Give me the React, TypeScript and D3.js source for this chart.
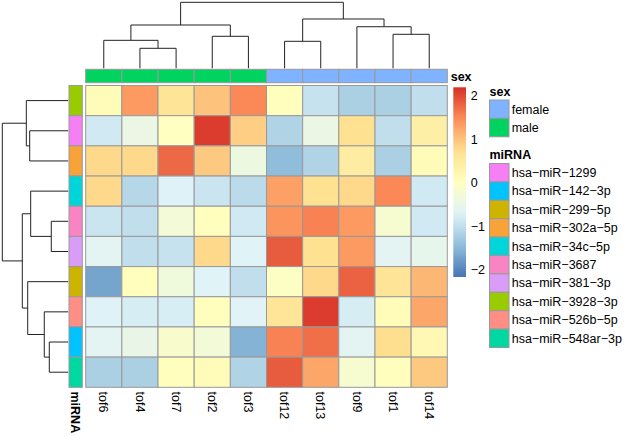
import React, { useEffect } from "react";
import * as d3 from "d3";

// ---- data ----
const cols = ["tof6", "tof4", "tof7", "tof2", "tof3", "tof12", "tof13", "tof9", "tof1", "tof14"];
const rows = [
  "hsa-miR-3928-3p", "hsa-miR-1299", "hsa-miR-302a-5p", "hsa-miR-34c-5p", "hsa-miR-3687",
  "hsa-miR-381-3p", "hsa-miR-299-5p", "hsa-miR-526b-5p", "hsa-miR-142-3p", "hsa-miR-548ar-3p",
];
const colSex = ["male", "male", "male", "male", "male", "female", "female", "female", "female", "female"];

const v3928 = [0.1, 1.35, 0.65, 1.0, 1.5, 0.05, -0.95, -1.2, -1.2, -1.0];
const v1299 = [-0.85, -0.45, 0.0, 2.1, 0.9, -1.15, -0.45, 0.72, -1.0, 0.4];
const v302a = [0.8, 0.8, 1.75, 0.95, -0.4, -1.45, -1.15, 0.45, -1.2, 0.1];
const v34c = [0.8, -1.1, -0.72, -0.9, -1.05, 1.3, 0.72, 0.8, 1.5, -0.85];
const v3687 = [-0.9, -1.0, -0.3, 0.05, -0.85, 1.4, 1.55, 1.35, -0.2, -0.85];
const v381 = [-0.65, -1.0, -0.95, 0.8, -0.7, 1.85, 0.72, 1.35, -0.65, -0.55];
const v299 = [-1.7, 0.05, -0.35, -0.7, -1.0, -0.05, 0.8, 1.8, 0.65, 1.1];
const v526b = [-0.72, -0.8, -0.78, 0.05, -0.68, 0.62, 2.1, -0.8, 0.1, 1.25];
const v142 = [-0.65, -0.5, -0.15, -0.3, -1.55, 1.55, 1.7, -0.65, 0.75, 0.2];
const v548ar = [-1.2, -1.2, 0.05, 0.1, -1.15, 1.85, 1.25, -0.2, 0.05, 0.95];
const values = [v3928, v1299, v302a, v34c, v3687, v381, v299, v526b, v142, v548ar];

const legendTicks = [2, 1, 0, -1, -2];
const valueDomain = [-2.16, 2.19];
const palette = ["#4575B4", "#91BFDB", "#E0F3F8", "#FFFFBF", "#FEE090", "#FC8D59", "#D73027"];

const sexLevels = ["female", "male"];
const sexColors = ["#7FB2FF", "#00D35F"];
const mirnaLevels = [
  "hsa-miR-1299", "hsa-miR-142-3p", "hsa-miR-299-5p", "hsa-miR-302a-5p", "hsa-miR-34c-5p",
  "hsa-miR-3687", "hsa-miR-381-3p", "hsa-miR-3928-3p", "hsa-miR-526b-5p", "hsa-miR-548ar-3p",
];
const mirnaColors = [
  "#F77FF5", "#00C3FF", "#CDB400", "#F8A23A", "#00D6DA",
  "#F884C4", "#DA9DF7", "#98CB00", "#FF8E84", "#00D8A2",
];

// dendrograms (heights relative to root)
const colTree = {
  h: 1.0,
  c: [
    { h: 0.656, c: [{ h: 0.424, c: ["tof6", { h: 0.303, c: ["tof4", "tof7"] }] }, { h: 0.485, c: ["tof2", "tof3"] }] },
    { h: 0.747, c: [{ h: 0.409, c: ["tof12", "tof13"] }, { h: 0.63, c: ["tof9", { h: 0.515, c: ["tof1", "tof14"] }] }] },
  ],
};
const rowTree = {
  h: 1.0,
  c: [
    { h: 0.636, c: ["hsa-miR-3928-3p", { h: 0.585, c: ["hsa-miR-1299", "hsa-miR-302a-5p"] }] },
    {
      h: 0.697,
      c: [
        { h: 0.57, c: ["hsa-miR-34c-5p", { h: 0.258, c: ["hsa-miR-3687", "hsa-miR-381-3p"] }] },
        {
          h: 0.615,
          c: ["hsa-miR-299-5p", { h: 0.364, c: ["hsa-miR-526b-5p", { h: 0.288, c: ["hsa-miR-142-3p", "hsa-miR-548ar-3p"] }] }],
        },
      ],
    },
  ],
};

const FONT = "'Liberation Sans', Arial, Helvetica, sans-serif";
const FS = 12.5;
const GRID = "#999999";
const disp = (s: string) => s.replace(/-/g, "\u2212");

function dendroPaths(tree: any, posScale: (k: string) => number, hScale: d3.ScaleLinear<number, number>, vertical: boolean) {
  const root = d3.hierarchy(tree, (d: any) => (typeof d === "string" ? null : d.c));
  root.eachAfter((n: any) => {
    if (n.children) {
      n.pos = (n.children[0].pos + n.children[1].pos) / 2;
      n.hh = n.data.h;
    } else {
      n.pos = posScale(n.data);
      n.hh = 0;
    }
  });
  const paths: string[] = [];
  root.each((n: any) => {
    if (!n.children) return;
    const [a, b] = n.children;
    if (vertical) {
      paths.push(`M${a.pos},${hScale(a.hh)}V${hScale(n.hh)}H${b.pos}V${hScale(b.hh)}`);
    } else {
      paths.push(`M${hScale(a.hh)},${a.pos}H${hScale(n.hh)}V${b.pos}H${hScale(b.hh)}`);
    }
  });
  return paths;
}

export default function App() {
  useEffect(() => {
    document.body.style.margin = "0";
  }, []);

  const W = 625, H = 436;
  const x = d3.scaleBand<string>().domain(cols).range([85.7, 447.3]);
  const y = d3.scaleBand<string>().domain(rows).range([85.5, 387.3]);
  const color = d3
    .scaleLinear<string>()
    .domain(d3.range(7).map((i) => valueDomain[0] + (i * (valueDomain[1] - valueDomain[0])) / 6))
    .range(palette)
    .interpolate(d3.interpolateRgb);

  const colH = d3.scaleLinear().domain([0, 1]).range([68.3, 2.3]);
  const rowH = d3.scaleLinear().domain([0, 1]).range([68.3, 2.3]);
  const colPaths = dendroPaths(colTree, (k) => (x(k) as number) + x.bandwidth() / 2, colH, true);
  const rowPaths = dendroPaths(rowTree, (k) => (y(k) as number) + y.bandwidth() / 2, rowH, false);

  const sexColor = d3.scaleOrdinal<string, string>().domain(sexLevels).range(sexColors);
  const mirColor = d3.scaleOrdinal<string, string>().domain(mirnaLevels).range(mirnaColors);

  const cbY = d3.scaleLinear().domain(valueDomain).range([277, 87.3]);
  const gradStops = d3.range(0, 1.0001, 0.05);

  const legX = 489.5, swW = 19.5, swH = 18.4;
  const sexTop = 100;
  const mirTop = 163.5;

  return (
    <div style={{ position: "absolute", left: 0, top: 0 }}>
      <svg width={W} height={H} style={{ display: "block", background: "#fff" }} fontFamily={FONT}>
        <defs>
          <linearGradient id="cb" x1="0" y1="1" x2="0" y2="0">
            {gradStops.map((t) => (
              <stop key={t} offset={t} stopColor={color(valueDomain[0] + t * (valueDomain[1] - valueDomain[0]))} />
            ))}
          </linearGradient>
        </defs>

        {/* dendrograms */}
        <g fill="none" stroke="#222" strokeWidth={1}>
          {colPaths.map((p, i) => (
            <path key={"c" + i} d={p} />
          ))}
          {rowPaths.map((p, i) => (
            <path key={"r" + i} d={p} />
          ))}
        </g>

        {/* column annotation */}
        {cols.map((c, j) => (
          <rect key={c} x={x(c)} y={69.3} width={x.bandwidth()} height={13.4} fill={sexColor(colSex[j])} stroke={GRID} strokeWidth={1} />
        ))}
        <text x={450.7} y={77} dy="0.35em" fontSize={FS} fontWeight="bold">sex</text>

        {/* row annotation */}
        {rows.map((r) => (
          <rect key={r} x={69} y={y(r)} width={13.3} height={y.bandwidth()} fill={mirColor(r)} stroke={GRID} strokeWidth={1} />
        ))}

        {/* heatmap */}
        {rows.map((r, i) =>
          cols.map((c, j) => (
            <rect key={r + c} x={x(c)} y={y(r)} width={x.bandwidth()} height={y.bandwidth()} fill={color(values[i][j])} stroke={GRID} strokeWidth={1} />
          ))
        )}

        {/* column labels */}
        {cols.map((c) => (
          <text
            key={"l" + c}
            transform={`translate(${(x(c) as number) + x.bandwidth() / 2},${391.5}) rotate(90)`}
            dy="0.35em"
            fontSize={FS}
          >
            {c}
          </text>
        ))}
        <text transform={`translate(75.7,391.5) rotate(90)`} dy="0.35em" fontSize={FS} fontWeight="bold">
          miRNA
        </text>

        {/* color bar */}
        <rect x={453.3} y={cbY(valueDomain[1])} width={12.7} height={cbY(valueDomain[0]) - cbY(valueDomain[1])} fill="url(#cb)" />
        {legendTicks.map((t) => (
          <text key={"t" + t} x={470.7} y={cbY(t)} dy="0.35em" fontSize={FS}>
            {t < 0 ? "\u2212" + Math.abs(t) : String(t)}
          </text>
        ))}

        {/* sex legend */}
        <text x={legX} y={91.7} dy="0.35em" fontSize={FS} fontWeight="bold">sex</text>
        {sexLevels.map((s, i) => (
          <g key={s}>
            <rect x={legX} y={sexTop + i * swH} width={swW} height={swH} fill={sexColor(s)} stroke={GRID} strokeWidth={1} />
            <text x={511.7} y={sexTop + i * swH + swH / 2} dy="0.35em" fontSize={FS}>{s}</text>
          </g>
        ))}

        {/* miRNA legend */}
        <text x={legX} y={155} dy="0.35em" fontSize={FS} fontWeight="bold">miRNA</text>
        {mirnaLevels.map((m, i) => (
          <g key={m}>
            <rect x={legX} y={mirTop + i * swH} width={swW} height={swH} fill={mirColor(m)} stroke={GRID} strokeWidth={1} />
            <text x={511.7} y={mirTop + i * swH + swH / 2} dy="0.35em" fontSize={FS}>{disp(m)}</text>
          </g>
        ))}
      </svg>
    </div>
  );
}
